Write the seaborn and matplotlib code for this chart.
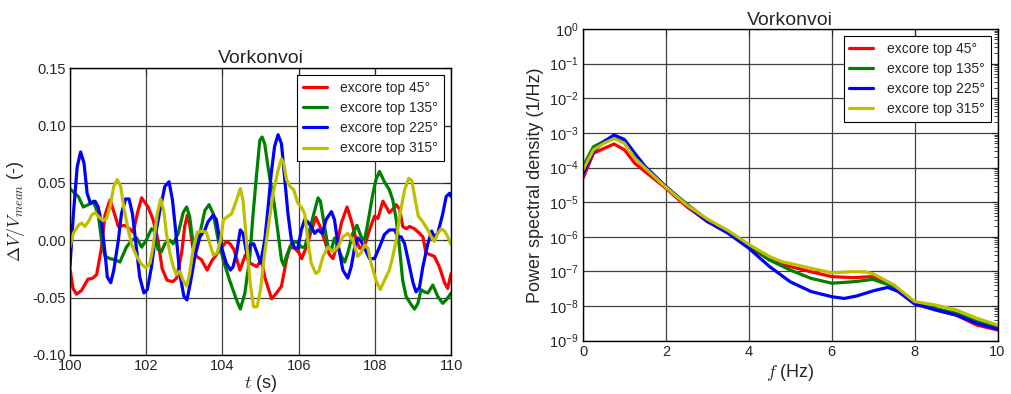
import numpy as np
import pandas as pd
import matplotlib
matplotlib.use("Agg")
import matplotlib.pyplot as plt
import seaborn as sns

# ---- time signals, dV/Vmean (-) ----
t_red = [100.0, 100.08, 100.17, 100.3, 100.47, 100.6, 100.7, 100.82, 100.92, 101.05, 101.15, 101.27,
         101.44, 101.6, 101.66, 101.78, 101.88, 102.05, 102.18, 102.31, 102.42, 102.55, 102.7, 102.8,
         102.93, 103.01, 103.08, 103.14, 103.22, 103.32, 103.45, 103.6, 103.72, 103.9, 104.1, 104.2,
         104.3, 104.46, 104.6, 104.73, 104.9, 105.03, 105.11, 105.29, 105.42, 105.55, 105.68, 105.77,
         105.9, 106.01, 106.08, 106.2, 106.33, 106.45, 106.55, 106.7, 106.8, 106.9, 107.0, 107.12,
         107.27, 107.4, 107.51, 107.6, 107.73, 107.86, 107.99, 108.08, 108.21, 108.3, 108.38, 108.47,
         108.56, 108.65, 108.73, 108.82, 108.91, 109.04, 109.17, 109.26, 109.34, 109.48, 109.56, 109.69,
         109.83, 109.91, 110.0]
v_red = [-0.025, -0.042, -0.047, -0.044, -0.034, -0.033, -0.030, -0.008, 0.022, 0.035, 0.025, 0.012,
         0.013, 0.009, 0.007, 0.025, 0.037, 0.029, 0.018, 0.0, -0.025, -0.035, -0.036, -0.033,
         -0.011, 0.012, 0.022, 0.014, -0.006, -0.014, -0.017, -0.026, -0.018, -0.010, -0.001, -0.003,
         -0.008, -0.026, -0.013, -0.020, -0.023, -0.017, -0.032, -0.051, -0.046, -0.040, -0.017, -0.006,
         -0.007, -0.011, -0.016, -0.006, 0.008, 0.020, 0.013, -0.002, -0.012, -0.016, -0.005, 0.015,
         0.029, 0.015, 0.0, -0.007, -0.005, 0.009, 0.021, 0.019, 0.034, 0.029, 0.024, 0.027,
         0.031, 0.027, 0.012, 0.010, 0.012, 0.010, 0.006, 0.003, -0.011, -0.013, -0.014, -0.023,
         -0.037, -0.042, -0.029]

t_green = [100.0, 100.22, 100.35, 100.48, 100.61, 100.74, 100.83, 100.92, 101.05, 101.18, 101.31, 101.48,
           101.62, 101.75, 101.88, 102.0, 102.14, 102.23, 102.31, 102.4, 102.49, 102.62, 102.71, 102.84,
           102.97, 103.06, 103.14, 103.23, 103.32, 103.41, 103.54, 103.65, 103.76, 103.89, 104.02, 104.19,
           104.37, 104.47, 104.59, 104.72, 104.8, 104.89, 104.98, 105.04, 105.11, 105.2, 105.28, 105.37,
           105.46, 105.55, 105.61, 105.68, 105.81, 105.94, 106.07, 106.16, 106.29, 106.42, 106.51, 106.57,
           106.68, 106.77, 106.86, 106.94, 107.03, 107.12, 107.21, 107.29, 107.42, 107.53, 107.64, 107.73,
           107.82, 107.95, 108.03, 108.12, 108.25, 108.38, 108.47, 108.56, 108.65, 108.73, 108.82, 108.95,
           109.04, 109.13, 109.21, 109.3, 109.39, 109.52, 109.65, 109.78, 109.87, 110.0]
v_green = [0.045, 0.038, 0.029, 0.031, 0.034, 0.023, 0.0, -0.014, -0.016, -0.017, -0.019, -0.006,
           0.0, 0.002, -0.006, 0.0, 0.010, 0.008, -0.008, -0.010, -0.003, 0.0, -0.003, 0.006,
           0.024, 0.029, 0.021, -0.003, -0.007, 0.006, 0.026, 0.031, 0.023, 0.0, -0.017, -0.035,
           -0.052, -0.060, -0.046, -0.014, 0.021, 0.055, 0.087, 0.090, 0.084, 0.063, 0.047, 0.029,
           0.006, -0.017, -0.022, -0.014, -0.003, -0.001, -0.006, -0.006, 0.009, 0.026, 0.037, 0.034,
           0.012, -0.006, -0.008, 0.002, -0.006, -0.014, -0.019, -0.011, 0.006, 0.013, 0.003, 0.0,
           0.016, 0.041, 0.053, 0.060, 0.051, 0.044, 0.035, 0.018, -0.008, -0.035, -0.049, -0.056,
           -0.060, -0.055, -0.043, -0.045, -0.046, -0.039, -0.049, -0.055, -0.052, -0.046]

t_blue = [100.0, 100.09, 100.19, 100.28, 100.37, 100.45, 100.54, 100.66, 100.74, 100.83, 100.92, 100.98,
          101.07, 101.15, 101.27, 101.35, 101.46, 101.55, 101.64, 101.73, 101.83, 101.94, 102.03, 102.14,
          102.25, 102.36, 102.49, 102.6, 102.69, 102.78, 102.88, 102.99, 103.07, 103.16, 103.28, 103.41,
          103.54, 103.62, 103.76, 103.84, 103.93, 104.02, 104.1, 104.21, 104.28, 104.37, 104.47, 104.54,
          104.65, 104.73, 104.82, 104.91, 105.0, 105.11, 105.2, 105.28, 105.37, 105.46, 105.55, 105.63,
          105.72, 105.81, 105.9, 105.98, 106.07, 106.16, 106.24, 106.33, 106.42, 106.51, 106.62, 106.72,
          106.86, 106.94, 107.03, 107.16, 107.29, 107.38, 107.47, 107.55, 107.64, 107.73, 107.86, 107.99,
          108.12, 108.25, 108.38, 108.52, 108.6, 108.69, 108.78, 108.91, 109.0, 109.08, 109.17, 109.26,
          109.39, 109.49, 109.56, 109.65, 109.78, 109.87, 109.96, 110.0]
v_blue = [-0.023, 0.023, 0.064, 0.077, 0.067, 0.041, 0.032, 0.034, 0.029, 0.015, -0.011, -0.032,
          -0.037, -0.026, 0.0, 0.023, 0.036, 0.036, 0.023, -0.003, -0.032, -0.046, -0.043, -0.023,
          0.006, 0.026, 0.047, 0.051, 0.035, 0.006, -0.029, -0.049, -0.052, -0.037, -0.014, 0.003,
          0.009, 0.016, 0.022, 0.018, 0.0, -0.011, -0.020, -0.026, -0.023, -0.011, 0.009, 0.006,
          -0.014, -0.004, -0.003, -0.011, -0.020, 0.0, 0.029, 0.058, 0.082, 0.092, 0.084, 0.055,
          0.023, 0.0, -0.007, -0.007, 0.009, 0.018, 0.016, 0.012, 0.006, 0.009, 0.006, 0.018,
          0.025, 0.018, -0.003, -0.026, -0.033, -0.023, -0.006, 0.002, -0.001, -0.007, -0.016, -0.016,
          -0.006, 0.005, 0.009, 0.009, 0.003, 0.003, -0.003, -0.023, -0.037, -0.045, -0.041, -0.023,
          -0.003, 0.008, 0.003, 0.006, 0.023, 0.038, 0.041, 0.038]

t_yellow = [100.0, 100.09, 100.22, 100.31, 100.39, 100.48, 100.57, 100.66, 100.74, 100.87, 100.96, 101.05,
            101.15, 101.24, 101.33, 101.41, 101.53, 101.62, 101.75, 101.88, 101.99, 102.1, 102.18, 102.29,
            102.38, 102.46, 102.53, 102.62, 102.71, 102.79, 102.88, 102.97, 103.06, 103.14, 103.23, 103.34,
            103.45, 103.58, 103.67, 103.76, 103.86, 103.95, 104.03, 104.15, 104.24, 104.37, 104.47, 104.54,
            104.63, 104.73, 104.82, 104.91, 105.0, 105.11, 105.22, 105.33, 105.46, 105.55, 105.61, 105.68,
            105.77, 105.87, 105.98, 106.07, 106.16, 106.24, 106.33, 106.45, 106.53, 106.64, 106.77, 106.9,
            107.03, 107.16, 107.29, 107.42, 107.55, 107.64, 107.73, 107.82, 107.9, 108.03, 108.14, 108.25,
            108.38, 108.47, 108.56, 108.65, 108.78, 108.89, 108.97, 109.06, 109.14, 109.26, 109.39, 109.48,
            109.56, 109.65, 109.74, 109.83, 109.91, 110.0]
v_yellow = [-0.006, 0.006, 0.013, 0.015, 0.012, 0.016, 0.022, 0.024, 0.021, 0.017, 0.019, 0.029,
            0.047, 0.053, 0.047, 0.029, 0.009, -0.004, -0.014, -0.021, -0.024, -0.020, -0.006, 0.023,
            0.036, 0.026, 0.006, -0.011, -0.023, -0.030, -0.027, -0.035, -0.040, -0.029, -0.008, 0.007,
            0.008, 0.007, -0.003, -0.013, -0.011, 0.0, 0.018, 0.021, 0.023, 0.035, 0.045, 0.035,
            0.0, -0.038, -0.058, -0.058, -0.043, -0.011, 0.015, 0.041, 0.061, 0.071, 0.067, 0.053,
            0.047, 0.044, 0.032, 0.029, 0.023, 0.0, -0.020, -0.029, -0.027, -0.014, -0.006, -0.010,
            -0.006, 0.003, 0.006, 0.0, -0.014, -0.011, -0.004, -0.007, -0.020, -0.035, -0.043, -0.035,
            -0.026, -0.014, 0.0, 0.021, 0.044, 0.054, 0.052, 0.035, 0.021, 0.016, 0.009, 0.003,
            -0.001, 0.006, 0.010, 0.008, 0.003, -0.004]

# ---- power spectral density, log10 values (1/Hz) ----
f_red = [0.0, 0.25, 0.5, 0.75, 1.0, 1.25, 1.5, 2.0, 2.5, 3.0, 3.5, 4.0, 4.5, 5.0, 5.5, 6.0,
         6.5, 7.0, 7.5, 8.0, 8.5, 9.0, 9.5, 10.0]
lp_red = [-4.31, -3.59, -3.45, -3.32, -3.49, -3.88, -4.12, -4.60, -5.13, -5.56, -5.85, -6.28,
          -6.67, -6.86, -7.01, -7.15, -7.18, -7.15, -7.44, -7.92, -8.11, -8.26, -8.55, -8.69]
f_green = [0.0, 0.25, 0.5, 0.75, 1.0, 1.25, 1.5, 2.0, 2.5, 3.0, 3.5, 4.0, 4.5, 5.0, 5.5, 6.0,
           6.5, 7.0, 7.5, 8.0, 8.5, 9.0, 9.5, 10.0]
lp_green = [-3.97, -3.40, -3.25, -3.11, -3.25, -3.69, -4.02, -4.55, -5.05, -5.51, -5.85, -6.24,
            -6.67, -6.96, -7.20, -7.34, -7.30, -7.23, -7.44, -7.92, -8.07, -8.21, -8.45, -8.61]
f_blue = [0.0, 0.25, 0.5, 0.75, 1.0, 1.25, 1.5, 2.0, 2.5, 3.0, 3.5, 4.0, 4.5, 5.0, 5.5, 6.0,
          6.3, 6.6, 7.0, 7.35, 7.6, 8.0, 8.5, 9.0, 9.5, 10.0]
lp_blue = [-4.17, -3.54, -3.25, -3.06, -3.19, -3.59, -3.97, -4.55, -5.08, -5.56, -5.90, -6.33,
           -6.86, -7.30, -7.58, -7.73, -7.78, -7.71, -7.56, -7.46, -7.58, -7.94, -8.11, -8.26, -8.50, -8.67]
f_yellow = [0.0, 0.25, 0.5, 0.75, 1.0, 1.25, 1.5, 2.0, 2.5, 3.0, 3.5, 4.0, 4.5, 4.8, 5.0, 5.5,
            6.0, 6.5, 6.8, 7.0, 7.5, 8.0, 8.5, 9.0, 9.5, 10.0]
lp_yellow = [-4.07, -3.49, -3.30, -3.16, -3.30, -3.73, -4.02, -4.57, -5.08, -5.49, -5.82, -6.22,
             -6.57, -6.72, -6.77, -6.91, -7.04, -7.01, -7.01, -7.07, -7.39, -7.87, -7.97, -8.11, -8.35, -8.55]

labels = ["excore top 45°", "excore top 135°", "excore top 225°", "excore top 315°"]
colors = ["#ff0000", "#008000", "#0000ff", "#bfbf00"]

sns.set_style("white")
plt.rcParams["font.family"] = ["Liberation Sans", "DejaVu Sans"]
plt.rcParams["mathtext.fontset"] = "cm"
plt.rcParams["xtick.direction"] = "in"
plt.rcParams["ytick.direction"] = "in"
plt.rcParams["xtick.top"] = True
plt.rcParams["ytick.right"] = True
plt.rcParams["axes.edgecolor"] = "black"
plt.rcParams["axes.linewidth"] = 1.0

fig = plt.figure(figsize=(10.11, 3.94), dpi=100)
ax1 = fig.add_axes([0.0692, 0.099, 0.377, 0.728])
ax2 = fig.add_axes([0.5767, 0.1353, 0.410, 0.791])

series_t = [(t_red, v_red), (t_green, v_green), (t_blue, v_blue), (t_yellow, v_yellow)]
for (t, v), lab, c in zip(series_t, labels, colors):
    sns.lineplot(x=t, y=v, ax=ax1, color=c, lw=2.3, label=lab, estimator=None, sort=False)

series_f = [(f_red, lp_red), (f_green, lp_green), (f_blue, lp_blue), (f_yellow, lp_yellow)]
for (f, lp), lab, c in zip(series_f, labels, colors):
    sns.lineplot(x=f, y=10 ** np.array(lp), ax=ax2, color=c, lw=2.3, label=lab,
                 estimator=None, sort=False)

# left panel
ax1.set_xlim(100, 110)
ax1.set_ylim(-0.10, 0.15)
ax1.set_xticks(np.arange(100, 111, 2))
ax1.set_yticks(np.arange(-0.10, 0.151, 0.05))
ax1.yaxis.set_major_formatter(matplotlib.ticker.FormatStrFormatter("%.2f"))
ax1.set_title("Vorkonvoi", fontsize=14, pad=4)
ax1.set_xlabel("$t$ (s)", fontsize=13, labelpad=0)
ax1.set_ylabel(r"$\Delta V/V_{mean}$ (-)", fontsize=13, labelpad=4)

# right panel
ax2.set_yscale("log")
ax2.set_xlim(0, 10)
ax2.set_ylim(1e-9, 1e0)
ax2.set_xticks(np.arange(0, 11, 2))
ax2.yaxis.set_major_locator(matplotlib.ticker.LogLocator(base=10, numticks=12))
ax2.yaxis.set_minor_locator(matplotlib.ticker.LogLocator(base=10, subs=np.arange(2, 10), numticks=12))
ax2.set_title("Vorkonvoi", fontsize=14, pad=3)
ax2.set_xlabel("$f$ (Hz)", fontsize=13, labelpad=2)
ax2.set_ylabel("Power spectral density (1/Hz)", fontsize=13, labelpad=4)

for ax in (ax1, ax2):
    ax.grid(True, color="0.25", ls="-", lw=0.9)
    ax.set_axisbelow(True)
    ax.tick_params(which="major", length=5, width=0.8, labelsize=10.5, pad=3)
    ax.tick_params(which="minor", length=3, width=0.6)
    ax.tick_params(axis="x", which="minor", bottom=False, top=False)
    leg = ax.legend(loc="upper right", fontsize=10, fancybox=False, framealpha=1,
                    edgecolor="black", borderaxespad=0.5, handlelength=1.7,
                    handletextpad=1.0, labelspacing=0.45)
    leg.get_frame().set_linewidth(0.8)

fig.savefig("out.png", dpi=100)
